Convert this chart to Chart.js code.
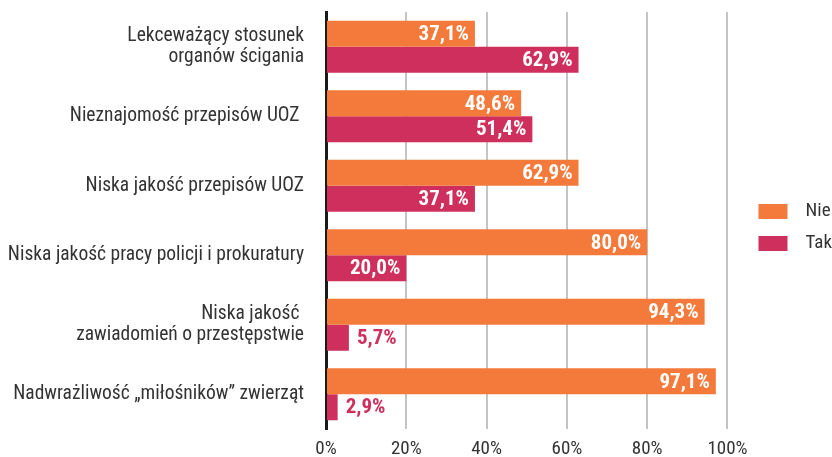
<!DOCTYPE html>
<html>
<head>
<meta charset="utf-8">
<script src="https://cdn.jsdelivr.net/npm/chart.js@4"></script>
<style>
  html, body { margin: 0; padding: 0; background: #fff; }
  #wrap { width: 832px; height: 457px; }
</style>
</head>
<body>
<div id="wrap"><canvas id="chart" width="832" height="457"></canvas></div>
<script>
// --- dane ---
const categories = [
  ['Lekceważący stosunek', 'organów ścigania'],
  'Nieznajomość przepisów UOZ ',
  'Niska jakość przepisów UOZ',
  'Niska jakość pracy policji i prokuratury',
  ['Niska jakość ', 'zawiadomień o przestępstwie'],
  'Nadwrażliwość „miłośników” zwierząt'
];
const nieValues = [37.1, 48.6, 62.9, 80.0, 94.3, 97.1];
const takValues = [62.9, 51.4, 37.1, 20.0, 5.7, 2.9];
const seriesNames = ['Nie', 'Tak'];
const xTicks = [0, 20, 40, 60, 80, 100];

const FONT = "'Liberation Sans Narrow', 'Roboto Condensed', 'DejaVu Sans Condensed', sans-serif";
const ORANGE = '#F37A3B';
const CRIMSON = '#CF2F5C';

// etykiety wartości na końcach słupków
const valueLabels = {
  id: 'valueLabels',
  afterDatasetsDraw(chart) {
    const c = chart.ctx;
    c.save();
    c.font = 'bold 21px ' + FONT;
    c.textBaseline = 'middle';
    chart.data.datasets.forEach((ds, i) => {
      const meta = chart.getDatasetMeta(i);
      meta.data.forEach((bar, j) => {
        const v = ds.data[j];
        const txt = v.toFixed(1).replace('.', ',') + '%';
        if (v > 10) {
          c.fillStyle = '#fff';
          c.textAlign = 'right';
          c.fillText(txt, bar.x - 6, bar.y + 1);
        } else {
          c.fillStyle = ds.backgroundColor;
          c.textAlign = 'left';
          c.fillText(txt, bar.x + 8, bar.y + 1);
        }
      });
    });
    c.restore();
  }
};

// legenda trochę dalej od wykresu
const legendNudge = {
  id: 'legendNudge',
  afterLayout(chart) {
    const l = chart.legend;
    l.left += 18; l.right += 18;
    l.top -= 7; l.bottom -= 7;
  }
};

new Chart(document.getElementById('chart').getContext('2d'), {
  type: 'bar',
  data: {
    labels: categories,
    datasets: [
      { label: seriesNames[0], data: nieValues, backgroundColor: ORANGE },
      { label: seriesNames[1], data: takValues, backgroundColor: CRIMSON }
    ]
  },
  options: {
    indexAxis: 'y',
    responsive: false,
    animation: false,
    categoryPercentage: 0.745,
    barPercentage: 1.0,
    layout: { padding: { top: 12, bottom: 0, left: 0, right: 8 } },
    plugins: {
      tooltip: { enabled: false },
      legend: {
        position: 'right',
        labels: {
          color: '#333',
          font: { family: FONT, size: 19 },
          boxWidth: 29,
          boxHeight: 15,
          padding: 13,
          generateLabels(chart) {
            const items = Chart.defaults.plugins.legend.labels.generateLabels(chart);
            items.forEach(it => { it.text = '\u2002' + it.text; });
            return items;
          }
        }
      }
    },
    scales: {
      x: {
        min: 0,
        max: 100,
        afterBuildTicks(axis) { axis.ticks = xTicks.map(v => ({ value: v })); },
        afterFit(axis) { axis.height = 28; },
        ticks: {
          color: '#333',
          font: { family: FONT, size: 19 },
          padding: 9,
          callback: v => v + '%'
        },
        grid: { color: '#c4c4c4', lineWidth: 2, drawTicks: false },
        border: { display: false }
      },
      y: {
        afterFit(axis) {
          axis.width = 326;
          axis.paddingTop = 0;
          axis.paddingBottom = 0;
        },
        ticks: {
          color: '#333',
          font: { family: FONT, size: 19.5, lineHeight: 1.1 },
          padding: 22
        },
        grid: { display: false, drawTicks: false },
        border: { color: '#1a1a1a', width: 3 }
      }
    }
  },
  plugins: [valueLabels, legendNudge]
});
</script>
</body>
</html>
